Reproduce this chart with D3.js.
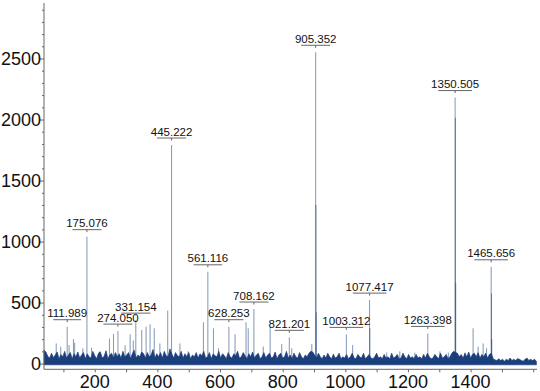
<!DOCTYPE html>
<html>
<head>
<meta charset="utf-8">
<script src="https://cdn.jsdelivr.net/npm/d3@7"></script>
<style>
  body { margin: 0; background: #fff; }
  svg { display: block; font-family: "Liberation Sans", Arial, sans-serif; }
</style>
</head>
<body>
<div id="chart"></div>
<script>
// peak sticks (m/z, intensity)
var peakMz = [77, 91.5, 111.989, 118, 132, 136, 162, 175.076, 190, 215, 247, 260, 274.050, 297, 313, 323,
  331.154, 350, 364, 376.6, 390, 408, 433, 445.222, 472, 498, 547, 561.116, 579, 595, 628.253, 648,
  683, 690, 708.162, 738, 760, 797, 821.201, 829, 893, 905.352, 906.355, 907.36, 962, 1003.312, 1023.5,
  1077.417, 1078.42, 1132, 1174, 1222, 1263.398, 1302, 1329, 1350.505, 1351.51, 1352.51, 1382, 1408,
  1424, 1440, 1451, 1465.656, 1466.66, 1467.66];
var peakInt = [165, 138, 302, 150, 200, 170, 125, 1040, 130, 100, 205, 242, 266, 150, 240, 190,
  356, 275, 302, 321, 289, 165, 435, 1791, 165, 100, 338, 752, 289, 125, 302, 240,
  338, 289, 447, 140, 289, 160, 215, 125, 160, 2551, 1300, 420, 80, 239, 152,
  520, 290, 90, 100, 90, 247, 100, 90, 2180, 2015, 660, 90, 289,
  140, 165, 125, 793, 575, 200];

// annotated peaks
var labelMz = [111.989, 175.076, 274.050, 331.154, 445.222, 561.116, 628.253, 708.162, 821.201,
  905.352, 1003.312, 1077.417, 1263.398, 1350.505, 1465.656];

// noise floor, upper edge, one value every 6 m/z from 38
var noiseStart = 38, noiseStep = 6;
var noiseTop = [
  110, 95, 60, 45, 85, 50, 70, 95, 40, 75, 55, 100, 45, 70, 90, 40, 80, 55, 95, 45,
  70, 90, 40, 80, 55, 45, 100, 65, 40, 85, 95, 45, 60, 105, 40, 70, 85, 45, 90, 55,
  80, 45, 100, 55, 70, 90, 40, 80, 110, 45, 70, 55, 95, 80, 45, 90, 55, 70, 115, 45,
  80, 55, 90, 45, 100, 65, 55, 120, 80, 45, 90, 65, 55, 100, 45, 80, 55, 90, 40, 70,
  55, 90, 45, 80, 65, 100, 45, 55, 90, 40, 80, 65, 55, 100, 45, 80, 65, 40, 90, 55,
  45, 80, 65, 100, 45, 55, 90, 65, 40, 80, 55, 95, 45, 70, 85, 40, 55, 90, 45, 70,
  85, 45, 55, 95, 40, 70, 85, 45, 55, 100, 45, 70, 40, 85, 55, 45, 90, 55, 40, 70,
  55, 85, 100, 95, 70, 45, 85, 55, 40, 70, 45, 85, 55, 40, 75, 45, 55, 85, 40, 55,
  45, 75, 40, 55, 85, 45, 40, 75, 55, 45, 85, 40, 55, 75, 45, 40, 55, 85, 45, 55,
  40, 75, 45, 55, 40, 85, 45, 55, 75, 40, 45, 85, 55, 40, 75, 45, 55, 40, 75, 45,
  55, 40, 75, 45, 85, 55, 40, 45, 75, 55, 40, 85, 45, 55, 75, 40, 55, 85, 100, 90,
  85, 55, 75, 45, 85, 55, 95, 45, 75, 85, 55, 90, 45, 75, 55, 85, 45, 75, 85, 40,
  30, 25, 40, 25, 35, 20, 35, 25, 45, 25, 35, 25, 40, 35, 25, 20, 35, 45, 25, 35,
  25, 35, 20];
var noiseBottom = -10;

var xLabelTicks = [200, 400, 600, 800, 1000, 1200, 1400];
var yLabelTicks = [0, 500, 1000, 1500, 2000, 2500];

var width = 540, height = 391;
var navy = '#1a3f7c';

var svg = d3.select('#chart')
  .append('svg')
  .attr('width', width)
  .attr('height', height);

var x = d3.scaleLinear().domain([38, 1612]).range([44, 537]);
var y = d3.scaleLinear().domain([-47, 2955]).range([369.3, 3]);

// noise band
var noise = noiseTop.map(function(v, i) { return [noiseStart + i * noiseStep, v]; });

svg.append('path')
  .datum(noise)
  .attr('fill', navy)
  .attr('stroke', navy)
  .attr('stroke-width', 0.7)
  .attr('d', d3.area()
    .x(function(d) { return x(d[0]); })
    .y0(y(noiseBottom))
    .y1(function(d) { return y(d[1]); }));

// sticks
svg.append('g')
  .selectAll('line.peak')
  .data(peakMz)
  .enter().append('line')
  .attr('class', 'peak')
  .attr('x1', function(d) { return x(d); })
  .attr('x2', function(d) { return x(d); })
  .attr('y1', y(0))
  .attr('y2', function(d, i) { return y(peakInt[i]); })
  .attr('stroke', navy)
  .attr('stroke-opacity', 0.55)
  .attr('stroke-width', 1);

// axes
var xAxis = svg.append('g')
  .attr('transform', 'translate(0,' + y.range()[0] + ')')
  .call(d3.axisBottom(x).tickValues(d3.range(100, 1601, 100)).tickSize(3).tickFormat(''));
xAxis.select('.domain').attr('d', 'M' + x.range()[0] + ',0H' + x.range()[1]);

svg.append('g')
  .attr('transform', 'translate(0,' + y.range()[0] + ')')
  .selectAll('text')
  .data(xLabelTicks)
  .enter().append('text')
  .attr('x', function(d) { return x(d); })
  .attr('y', 19)
  .attr('text-anchor', 'middle')
  .attr('font-size', 18)
  .attr('fill', '#111')
  .text(function(d) { return d; });

var yAxis = svg.append('g')
  .attr('transform', 'translate(' + x.range()[0] + ',0)')
  .call(d3.axisLeft(y).tickValues(d3.range(0, 2901, 100)).tickSize(2).tickFormat(''));
yAxis.select('.domain').attr('d', 'M0,' + y.range()[0] + 'V' + y.range()[1]);
yAxis.selectAll('.tick line')
  .attr('x2', function(d) { return d % 500 === 0 ? -4 : -2; });

svg.append('g')
  .selectAll('text')
  .data(yLabelTicks)
  .enter().append('text')
  .attr('x', 41)
  .attr('y', function(d) { return y(d); })
  .attr('dy', '0.35em')
  .attr('text-anchor', 'end')
  .attr('font-size', 18)
  .attr('fill', '#111')
  .text(function(d) { return d; });

svg.selectAll('.domain, .tick line').attr('stroke', '#666');

// peak annotations
var ann = svg.append('g')
  .selectAll('g.ann')
  .data(labelMz)
  .enter().append('g')
  .attr('class', 'ann')
  .attr('transform', function(d) {
    var top = y(peakInt[peakMz.indexOf(d)]) - 7;
    return 'translate(' + x(d) + ',' + top + ')';
  });

ann.append('text')
  .attr('y', -2.5)
  .attr('text-anchor', 'middle')
  .attr('font-size', 11.5)
  .attr('fill', '#111')
  .text(function(d) { return d.toFixed(3); });

ann.each(function() {
  var g = d3.select(this);
  var w = g.select('text').node().getComputedTextLength() * 0.7;
  g.append('line')
    .attr('x1', -w / 2)
    .attr('x2', w / 2)
    .attr('stroke', '#666')
    .attr('stroke-width', 1);
  g.append('line')
    .attr('y2', 2.5)
    .attr('stroke', '#666')
    .attr('stroke-width', 1);
});
</script>
</body>
</html>
